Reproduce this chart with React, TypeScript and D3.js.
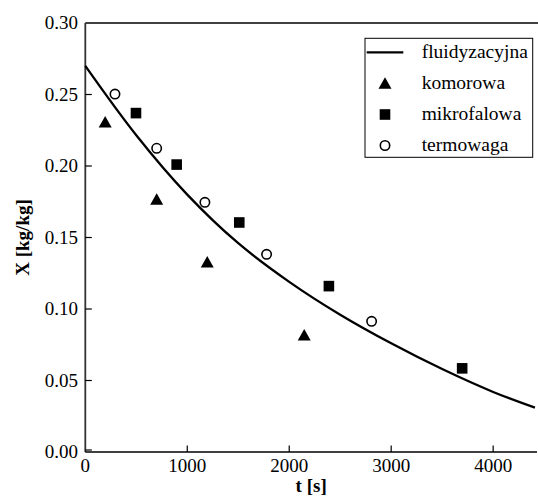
import React from "react";
import * as d3 from "d3";

const xTicks = [0, 1000, 2000, 3000, 4000];
const yTicks = [0, 0.05, 0.1, 0.15, 0.2, 0.25, 0.3];

const curveT = [0, 500, 1000, 1500, 2000, 2500, 3000, 3500, 4000, 4410];
const curveX = [0.27, 0.2215, 0.18, 0.146, 0.119, 0.096, 0.076, 0.058, 0.042, 0.031];

const komT = [195, 700, 1196, 2147];
const komX = [0.231, 0.177, 0.133, 0.082];

const mikT = [497, 896, 1510, 2389, 3696];
const mikX = [0.237, 0.201, 0.1605, 0.116, 0.0585];

const terT = [291, 700, 1173, 1778, 2808];
const terX = [0.2503, 0.2124, 0.1746, 0.1382, 0.0914];

const legendLabels = ["fluidyzacyjna", "komorowa", "mikrofalowa", "termowaga"];

const W = 538;
const H = 498;
const L = 85.3;
const R = 537;
const T = 23;
const B = 452;
const FONT = "Liberation Serif, Times New Roman, Times, serif";

function Triangle({ cx, cy }: { cx: number; cy: number }) {
  const w = 13;
  const h = 11.5;
  return (
    <path
      d={`M${cx - w / 2},${cy + h / 2}L${cx + w / 2},${cy + h / 2}L${cx},${cy - h / 2}Z`}
      fill="#000"
    />
  );
}

function Square({ cx, cy }: { cx: number; cy: number }) {
  const s = 10.6;
  return <rect x={cx - s / 2} y={cy - s / 2} width={s} height={s} fill="#000" />;
}

function Circle({ cx, cy }: { cx: number; cy: number }) {
  return <circle cx={cx} cy={cy} r={4.7} fill="#fff" stroke="#000" strokeWidth={1.6} />;
}

export default function App() {
  const x = d3.scaleLinear().domain([0, 4430]).range([L, R]);
  const y = d3.scaleLinear().domain([0, 0.3]).range([B, T]);

  const line = d3
    .line<number>()
    .x((_, i) => x(curveT[i]))
    .y((d) => y(d))
    .curve(d3.curveCatmullRom);

  const fmt = d3.format(".2f");

  const lgX = 365;
  const lgY = 38.3;
  const lgW = 167.7;
  const lgH = 119;
  const rows = [52.3, 83, 114.5, 145.5];
  const txt = { fontFamily: FONT, fill: "#000" } as React.CSSProperties;

  return (
    <div style={{ position: "absolute", left: 0, top: 0 }}>
      <svg width={W} height={H} style={{ display: "block", background: "#fff" }}>
        <line x1={L} x2={W} y1={T} y2={T} stroke="#000" strokeWidth={1.5} />
        <line x1={L} x2={L} y1={T} y2={B} stroke="#333" strokeWidth={1.8} />
        <line x1={L} x2={R} y1={B} y2={B} stroke="#000" strokeWidth={1.5} />

        {yTicks.map((t) => (
          <g key={"y" + t}>
            {t > 0 && t < 0.3 && (
              <line x1={L} x2={L + 6.5} y1={y(t)} y2={y(t)} stroke="#000" strokeWidth={1.2} />
            )}
            {t === 0 && <line x1={L} x2={L + 6.5} y1={y(t) - 2} y2={y(t) - 2} stroke="#000" strokeWidth={1.2} />}
            <text x={78} y={y(t)} dy="0.33em" textAnchor="end" fontSize={19} style={txt}>
              {fmt(t)}
            </text>
          </g>
        ))}

        {xTicks.map((t) => (
          <g key={"x" + t}>
            {t > 0 && <line x1={x(t)} x2={x(t)} y1={B} y2={B - 6.5} stroke="#000" strokeWidth={1.2} />}
            <text x={x(t)} y={472} textAnchor="middle" fontSize={19} style={txt}>
              {t}
            </text>
          </g>
        ))}

        <text x={(L + R) / 2} y={492} textAnchor="middle" fontSize={19} fontWeight="bold" style={txt}>
          t [s]
        </text>
        <text
          transform={`translate(28.5,${(T + B) / 2}) rotate(-90)`}
          textAnchor="middle"
          fontSize={19}
          fontWeight="bold"
          style={txt}
        >
          X [kg/kg]
        </text>

        <path d={line(curveX) || ""} fill="none" stroke="#000" strokeWidth={2.3} />

        {komT.map((t, i) => (
          <Triangle key={"k" + i} cx={x(t)} cy={y(komX[i])} />
        ))}
        {mikT.map((t, i) => (
          <Square key={"m" + i} cx={x(t)} cy={y(mikX[i])} />
        ))}
        {terT.map((t, i) => (
          <Circle key={"c" + i} cx={x(t)} cy={y(terX[i])} />
        ))}

        <rect x={lgX} y={lgY} width={lgW} height={lgH} fill="#fff" stroke="#000" strokeWidth={1} />
        <line x1={366.7} x2={403.3} y1={rows[0]} y2={rows[0]} stroke="#000" strokeWidth={2.2} />
        <Triangle cx={385} cy={rows[1]} />
        <Square cx={385} cy={rows[2]} />
        <Circle cx={385} cy={rows[3]} />
        {legendLabels.map((lbl, i) => (
          <text key={lbl} x={421.7} y={rows[i]} dy="0.3em" fontSize={19.5} style={txt}>
            {lbl}
          </text>
        ))}
      </svg>
    </div>
  );
}
